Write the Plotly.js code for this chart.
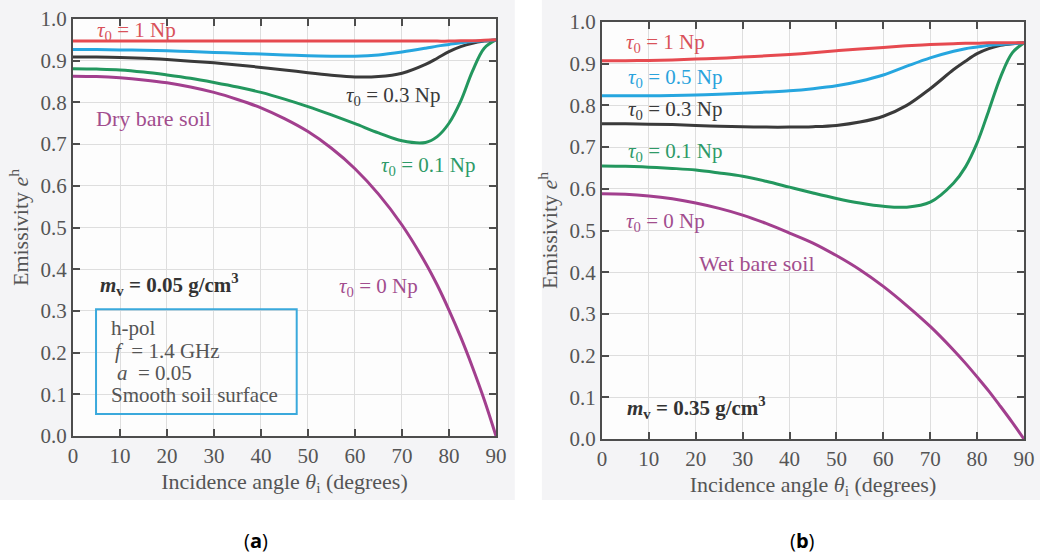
<!DOCTYPE html>
<html>
<head>
<meta charset="utf-8">
<script src="https://cdn.plot.ly/plotly-3.0.1.min.js"></script>
<style>
  html, body { margin: 0; padding: 0; background: #ffffff; }
  #chart { width: 1040px; height: 553px; }
</style>
</head>
<body>
<div id="chart"></div>
<script>
// Incidence angles (degrees)
const angles = [0, 5, 10, 15, 20, 25, 30, 35, 40, 45, 50, 55, 60, 65, 70, 75, 77.5, 80, 82.5, 85, 87.5, 90];

// (a) Dry soil, m_v = 0.05 g/cm^3
const dryTau1  = [0.947,0.947,0.947,0.947,0.947,0.947,0.947,0.947,0.947,0.947,0.947,0.947,0.947,0.947,0.947,0.947,0.947,0.947,0.948,0.948,0.949,0.950];
const dryTau05 = [0.927,0.927,0.926,0.925,0.924,0.922,0.920,0.918,0.916,0.914,0.912,0.911,0.911,0.914,0.921,0.930,0.935,0.939,0.943,0.946,0.948,0.950];
const dryTau03 = [0.909,0.909,0.908,0.906,0.903,0.899,0.895,0.890,0.884,0.878,0.871,0.865,0.861,0.862,0.870,0.891,0.906,0.922,0.934,0.942,0.947,0.950];
const dryTau01 = [0.881,0.880,0.878,0.873,0.866,0.858,0.848,0.837,0.824,0.808,0.790,0.770,0.749,0.727,0.708,0.704,0.718,0.750,0.803,0.875,0.930,0.950];
const dryTau0  = [0.863,0.862,0.859,0.854,0.847,0.837,0.824,0.807,0.787,0.761,0.730,0.690,0.641,0.580,0.506,0.415,0.362,0.302,0.237,0.165,0.087,0.000];

// (b) Wet soil, m_v = 0.35 g/cm^3
const wetTau1  = [0.907,0.907,0.908,0.909,0.911,0.913,0.916,0.919,0.922,0.926,0.931,0.935,0.939,0.943,0.946,0.948,0.949,0.949,0.950,0.950,0.950,0.950];
const wetTau05 = [0.823,0.823,0.823,0.824,0.825,0.827,0.829,0.832,0.835,0.840,0.847,0.858,0.873,0.894,0.914,0.930,0.936,0.940,0.944,0.946,0.948,0.950];
const wetTau03 = [0.756,0.756,0.755,0.754,0.752,0.750,0.749,0.748,0.748,0.749,0.752,0.760,0.774,0.800,0.840,0.886,0.906,0.924,0.936,0.944,0.948,0.950];
const wetTau01 = [0.655,0.654,0.652,0.649,0.645,0.638,0.630,0.618,0.604,0.590,0.577,0.566,0.558,0.556,0.568,0.614,0.652,0.710,0.788,0.868,0.926,0.950];
const wetTau0  = [0.588,0.587,0.583,0.576,0.566,0.553,0.537,0.517,0.494,0.470,0.440,0.406,0.366,0.320,0.270,0.213,0.182,0.149,0.115,0.078,0.040,0.000];

// Tick labels
const xTicks = [0,10,20,30,40,50,60,70,80,90];
const yTicks = [0,0.1,0.2,0.3,0.4,0.5,0.6,0.7,0.8,0.9,1.0];
const yTickText = ["0.0","0.1","0.2","0.3","0.4","0.5","0.6","0.7","0.8","0.9","1.0"];

const C = {
  red: '#e64a50', blue: '#26a6df', black: '#3a3a3a', green: '#23975e', purple: '#a23f8e'
};
const TXT = {
  red: '#d9525a', blue: '#2aa3dc', black: '#3a3a3a', green: '#2e9a68', purple: '#a24e8e'
};

function line(y, color, xa, ya, name) {
  return { x: angles, y: y, type: 'scatter', mode: 'lines', name: name,
    xaxis: xa, yaxis: ya, showlegend: false, hoverinfo: 'skip',
    line: { color: color, width: 3, shape: 'spline', smoothing: 1 } };
}

const traces = [
  line(dryTau0,  C.purple, 'x', 'y', 'τ0 = 0 Np'),
  line(dryTau01, C.green,  'x', 'y', 'τ0 = 0.1 Np'),
  line(dryTau03, C.black,  'x', 'y', 'τ0 = 0.3 Np'),
  line(dryTau05, C.blue,   'x', 'y', 'τ0 = 0.5 Np'),
  line(dryTau1,  C.red,    'x', 'y', 'τ0 = 1 Np'),
  line(wetTau0,  C.purple, 'x2', 'y2', 'τ0 = 0 Np'),
  line(wetTau01, C.green,  'x2', 'y2', 'τ0 = 0.1 Np'),
  line(wetTau03, C.black,  'x2', 'y2', 'τ0 = 0.3 Np'),
  line(wetTau05, C.blue,   'x2', 'y2', 'τ0 = 0.5 Np'),
  line(wetTau1,  C.red,    'x2', 'y2', 'τ0 = 1 Np')
];

const SERIF = 'Liberation Serif, Times New Roman, serif';
const axisCol = '#4d4d4d';

function xAxis(domain, anchor) {
  return {
    domain: domain, anchor: anchor, range: [0, 90], tickvals: xTicks,
    ticks: 'inside', ticklen: 7, tickwidth: 2, tickcolor: axisCol,
    showline: true, linecolor: axisCol, linewidth: 2, mirror: 'ticks',
    showgrid: true, gridcolor: '#dedede', gridwidth: 1, zeroline: false,
    tickfont: { family: SERIF, size: 21, color: '#555555' },
    title: { text: 'Incidence angle <i>θ</i><sub>i</sub> (degrees)', standoff: 6,
             font: { family: SERIF, size: 22, color: '#555555' } },
    fixedrange: true, automargin: false
  };
}
function yAxis(domain, anchor) {
  return {
    domain: domain, anchor: anchor, range: [0, 1], tickvals: yTicks, ticktext: yTickText,
    ticks: 'inside', ticklen: 7, tickwidth: 2, tickcolor: axisCol,
    showline: true, linecolor: axisCol, linewidth: 2, mirror: 'ticks',
    showgrid: true, gridcolor: '#dedede', gridwidth: 1, zeroline: false,
    tickfont: { family: SERIF, size: 21, color: '#555555' },
    title: { text: 'Emissivity <i>e</i><sup>h</sup>', standoff: 6,
             font: { family: SERIF, size: 22, color: '#555555' } },
    fixedrange: true, automargin: false
  };
}

function ann(xref, yref, x, y, text, color, opts) {
  return Object.assign({ xref: xref, yref: yref, x: x, y: y, text: text, showarrow: false,
    font: { family: SERIF, size: 21, color: color }, xanchor: 'center', yanchor: 'middle' }, opts || {});
}

const annotations = [
  // panel (a)
  ann('x', 'y', 13.5, 0.972, '<i>τ</i><sub>0</sub> = 1 Np', TXT.red),
  ann('x', 'y', 68, 0.815, '<i>τ</i><sub>0</sub> = 0.3 Np', TXT.black),
  ann('x', 'y', 17.2, 0.762, 'Dry bare soil', TXT.purple, { font: { family: SERIF, size: 22, color: TXT.purple } }),
  ann('x', 'y', 75.5, 0.648, '<i>τ</i><sub>0</sub> = 0.1 Np', TXT.green),
  ann('x', 'y', 65, 0.357, '<i>τ</i><sub>0</sub> = 0 Np', TXT.purple),
  ann('x', 'y', 20.6, 0.364, '<b><i>m</i><sub>v</sub> = 0.05 g/cm<sup>3</sup></b>', '#333333'),
  ann('x', 'y', 7.6, 0.258, 'h-pol', '#555555', { xanchor: 'left' }),
  ann('x', 'y', 8.6, 0.205, '<i>f</i>  = 1.4 GHz', '#555555', { xanchor: 'left' }),
  ann('x', 'y', 9.0, 0.152, '<i>a</i>  = 0.05', '#555555', { xanchor: 'left' }),
  ann('x', 'y', 7.6, 0.099, 'Smooth soil surface', '#555555', { xanchor: 'left' }),
  // panel (b)
  ann('x2', 'y2', 13.6, 0.950, '<i>τ</i><sub>0</sub> = 1 Np', TXT.red),
  ann('x2', 'y2', 15.6, 0.866, '<i>τ</i><sub>0</sub> = 0.5 Np', TXT.blue),
  ann('x2', 'y2', 15.6, 0.789, '<i>τ</i><sub>0</sub> = 0.3 Np', TXT.black),
  ann('x2', 'y2', 15.6, 0.688, '<i>τ</i><sub>0</sub> = 0.1 Np', TXT.green),
  ann('x2', 'y2', 13.6, 0.520, '<i>τ</i><sub>0</sub> = 0 Np', TXT.purple),
  ann('x2', 'y2', 33, 0.420, 'Wet bare soil', TXT.purple, { font: { family: SERIF, size: 22, color: TXT.purple } }),
  ann('x2', 'y2', 20.2, 0.076, '<b><i>m</i><sub>v</sub> = 0.35 g/cm<sup>3</sup></b>', '#333333'),
  // panel labels
  ann('paper', 'paper', 0.246, 0.023, '(<b>a</b>)', '#000000',
      { font: { family: 'Open Sans, Liberation Sans, sans-serif', size: 20, color: '#000000' } }),
  ann('paper', 'paper', 0.772, 0.023, '(<b>b</b>)', '#000000',
      { font: { family: 'Open Sans, Liberation Sans, sans-serif', size: 20, color: '#000000' } })
];

const shapes = [
  // white gaps around the two scanned panels
  { type: 'rect', xref: 'paper', yref: 'paper', x0: 0, x1: 1, y0: 0, y1: 0.096,
    fillcolor: '#ffffff', line: { width: 0 }, layer: 'below' },
  { type: 'rect', xref: 'paper', yref: 'paper', x0: 0.495, x1: 0.521, y0: 0, y1: 1,
    fillcolor: '#ffffff', line: { width: 0 }, layer: 'below' },
  // parameter box in panel (a)
  { type: 'rect', xref: 'x', yref: 'y', x0: 4.9, x1: 47.6, y0: 0.053, y1: 0.304,
    fillcolor: 'rgba(255,255,255,0)', line: { color: '#3aa9dc', width: 2 } }
];

const layout = {
  width: 1040, height: 553,
  margin: { l: 0, r: 0, t: 0, b: 0 },
  paper_bgcolor: '#f4f4f6', plot_bgcolor: '#fdfdfd',
  showlegend: false,
  xaxis: xAxis([0.0702, 0.4769], 'y'),
  yaxis: yAxis([0.2116, 0.9656], 'x'),
  xaxis2: xAxis([0.5788, 0.9846], 'y2'),
  yaxis2: yAxis([0.2061, 0.9602], 'x2'),
  annotations: annotations,
  shapes: shapes
};

Plotly.newPlot('chart', traces, layout, { displayModeBar: false, staticPlot: true });
</script>
</body>
</html>
